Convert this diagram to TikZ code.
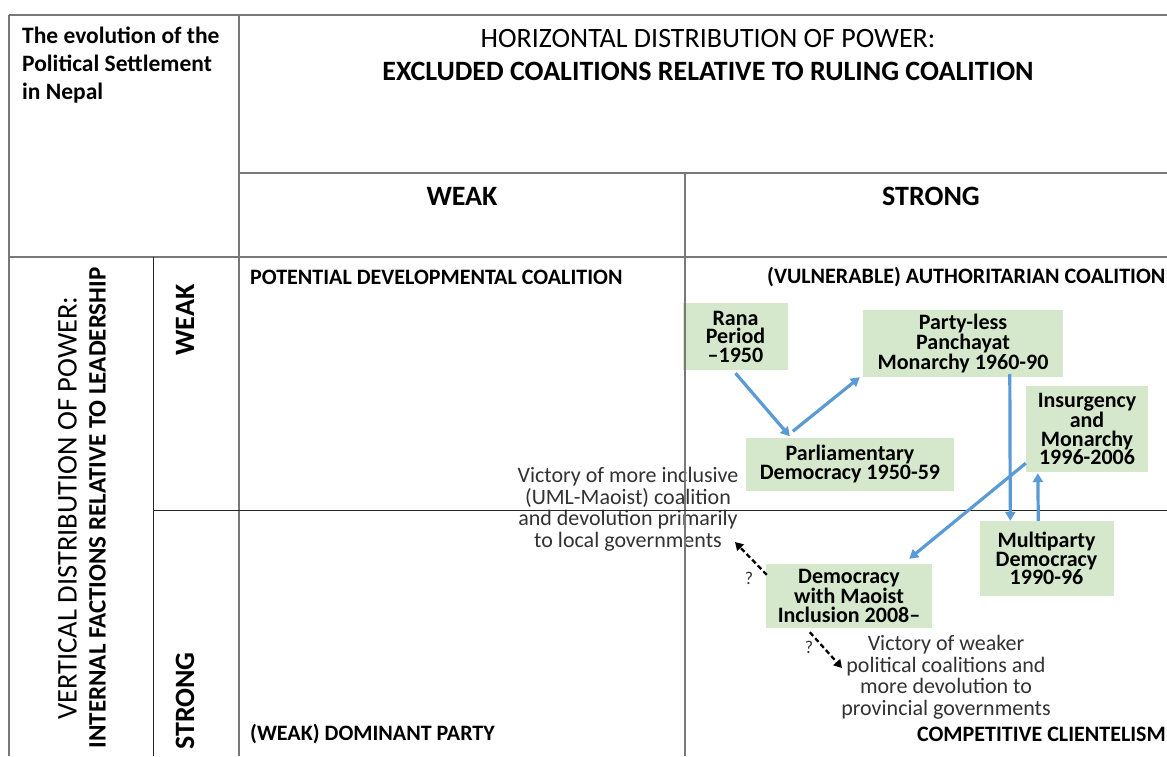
\documentclass[tikz,border=0pt]{standalone}
\usepackage{fontspec}
\setmainfont{Carlito}
\usetikzlibrary{arrows.meta,calc}
\definecolor{boxgreen}{RGB}{214,232,204}
\definecolor{flowblue}{RGB}{91,155,213}
\definecolor{notegray}{RGB}{50,50,50}
\definecolor{rulegray}{RGB}{120,120,120}
\begin{document}
\begin{tikzpicture}[x=1pt,y=-1pt,
  rule/.style={draw=rulegray,line width=1.6pt},
  thinrule/.style={draw=black!85,line width=1pt},
  period/.style={fill=boxgreen,inner sep=0pt,align=center,
    font=\fontsize{22}{18.5}\selectfont\bfseries},
  corner/.style={inner sep=0pt,font=\fontsize{22}{24}\selectfont\bfseries},
  axishead/.style={inner sep=0pt,font=\fontsize{28}{30}\selectfont\bfseries},
  note/.style={inner sep=0pt,align=center,text=notegray,
    font=\fontsize{22}{21.5}\selectfont},
  flow/.style={draw=flowblue,line width=3.2pt,-{Triangle[width=10pt,length=9pt]}},
  maybe/.style={draw=black,line width=2.3pt,dash pattern=on 5pt off 3pt,
    -{Triangle[width=9pt,length=8pt]}},
  qmark/.style={inner sep=0pt,text=notegray,font=\fontsize{18}{18}\selectfont}]
\useasboundingbox (0,0) rectangle (1167,756);
\fill[white] (0,0) rectangle (1167,756);

% header texts
\node[inner sep=0pt,anchor=north west,align=left,
  font=\fontsize{23.5}{28}\selectfont\bfseries] (title) at (22,26.5)
  {The evolution of the\\Political Settlement\\in Nepal};
\node[inner sep=0pt,anchor=north,align=center,
  font=\fontsize{28}{33}\selectfont] (horiz) at (708,29.5)
  {HORIZONTAL DISTRIBUTION OF POWER:\\\textbf{EXCLUDED COALITIONS RELATIVE TO RULING COALITION}};
\node[axishead] (hweak) at (462,196) {WEAK};
\node[axishead] (hstrong) at (931,196) {STRONG};

% vertical axis texts
\node[inner sep=0pt,rotate=90,align=center,
  font=\fontsize{28.5}{29}\selectfont] (vert) at (82,508)
  {VERTICAL DISTRIBUTION OF POWER:\\\fontsize{25}{29}\selectfont\textbf{INTERNAL FACTIONS RELATIVE TO LEADERSHIP}};
\node[axishead,rotate=90] (vweak) at (185,320) {WEAK};
\node[axishead,rotate=90] (vstrong) at (185,701) {STRONG};

% quadrant names
\node[corner,anchor=west] (qdev) at (250,277) {POTENTIAL DEVELOPMENTAL COALITION};
\node[corner,anchor=west] (qauth) at (767,277) {(VULNERABLE) AUTHORITARIAN COALITION};
\node[corner,anchor=west] (qdom) at (250,734) {(WEAK) DOMINANT PARTY};
\node[corner,anchor=east] (qcli) at (1166,734) {COMPETITIVE CLIENTELISM};

% periods of the settlement
\node[period,minimum width=105pt,minimum height=67pt] (rana) at (735.5,336.5)
  {Rana\\Period\\--1950};
\node[period,minimum width=200pt,minimum height=67pt] (panch) at (963,343.5)
  {Party-less\\Panchayat\\Monarchy 1960-90};
\node[period,minimum width=122pt,minimum height=86pt] (insur) at (1087,429)
  {Insurgency\\and\\Monarchy\\1996-2006};
\node[period,minimum width=208pt,minimum height=53pt] (parl) at (850,464)
  {Parliamentary\\Democracy 1950-59};
\node[period,minimum width=134pt,minimum height=75pt] (multi) at (1046.5,558.5)
  {Multiparty\\Democracy\\1990-96};
\node[period,minimum width=166pt,minimum height=64pt] (maoist) at (849,596)
  {Democracy\\with Maoist\\Inclusion 2008--};

% possible outcomes
\node[note] (inclusive) at (628,509)
  {Victory of more inclusive\\(UML-Maoist) coalition\\and devolution primarily\\to local governments};
\node[note] (weaker) at (946,677)
  {Victory of weaker\\political coalitions and\\more devolution to\\provincial governments};
\node[qmark] (q1) at (749,578) {?};
\node[qmark] (q2) at (809,647) {?};

% table rules
\draw[rule] (9,15) -- (1167,15);
\draw[rule] (9,15) -- (9,756);
\draw[rule] (239,15) -- (239,756);
\draw[rule] (239,173) -- (1167,173);
\draw[rule] (685,173) -- (685,756);
\draw[rule] (9,257) -- (1167,257);
\draw[thinrule] (153,257) -- (153,756);
\draw[thinrule] (153,510) -- (1167,510);

% transitions
\draw[flow] ($(rana.south)+(0,3)$) -- ($(parl.north west)+(44,-1)$);
\draw[flow] ($(parl.north west)+(47,-6)$) -- ($(panch.south west)+(-3,0)$);
\draw[flow] ($(panch.south west)+(147,-3)$) -- ($(multi.north west)+(31,0)$);
\draw[flow] ($(multi.north west)+(59,0)$) -- ($(insur.south west)+(12,1)$);
\draw[flow] ($(insur.south west)+(0,-9)$) -- ($(maoist.north east)+(-23,-5)$);
\draw[maybe] ($(maoist.north west)+(1,11)$) -- ($(inclusive.south)+(107,-9)$);
\draw[maybe] ($(maoist.south west)+(44,4)$) -- ($(weaker.north)+(-104,33)$);
\end{tikzpicture}
\end{document}
